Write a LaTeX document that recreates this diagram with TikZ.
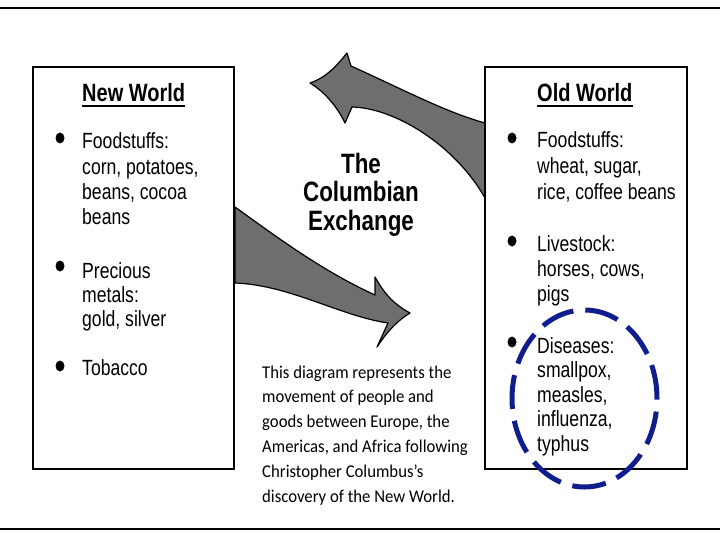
\documentclass[tikz,border=0pt]{standalone}
\usepackage{fontspec}
\setmainfont{Liberation Sans}
\newfontfamily\narrowsans[FakeStretch=0.8]{Liberation Sans}
\newfontfamily\captionsans[FakeStretch=0.93]{Carlito}
\usetikzlibrary{positioning,shapes.geometric}
\definecolor{arrowgrey}{HTML}{6E6E6E}
\definecolor{ringblue}{HTML}{0F1E8C}
\tikzset{
  world/.style   ={rectangle, draw=black, line width=1.6pt, inner sep=0pt},
  head/.style    ={font=\narrowsans\fontsize{25}{28}\selectfont\bfseries,
                   inner sep=0pt, anchor=base west},
  item/.style    ={font=\narrowsans\fontsize{22}{25.5}\selectfont, align=left,
                   inner sep=0pt, anchor=base west},
  dot/.style     ={ellipse, fill=black, minimum width=9pt, minimum height=11pt, inner sep=0pt},
  ttl/.style     ={font=\narrowsans\fontsize{28}{28.5}\selectfont\bfseries, align=center,
                   inner sep=0pt, anchor=base},
  captext/.style ={font=\captionsans\fontsize{18}{24.8}\selectfont, align=left,
                   inner sep=0pt, anchor=base west},
  bigarrow/.style={fill=arrowgrey, draw=black, line width=1.2pt, line join=round},
  ring/.style    ={draw=ringblue, line width=5pt, dash pattern=on 34pt off 12pt},
  rule/.style    ={line width=2.5pt}
}

\begin{document}
\begin{tikzpicture}[x=1pt, y=-1pt]
  \useasboundingbox (0,0) rectangle (720,540);
  \coordinate (tl) at (0,8);   \coordinate (tr) at (720,8);
  \coordinate (bl) at (0,529); \coordinate (br) at (720,529);
  \draw[rule] (tl) -- (tr);
  \draw[rule] (bl) -- (br);

  % the two exchange arrows
  \draw[bigarrow] (485,123) .. controls (445,112) and (400,88) .. (351,66)
    -- (347,53) .. controls (335,68) and (325,78) .. (310,83)
    .. controls (325,92) and (338,108) .. (345,123)
    -- (352,107) .. controls (395,108) and (455,145) .. (485,198) -- cycle;
  \draw[bigarrow] (235,207) .. controls (270,232) and (320,270) .. (375,295)
    -- (375,277) .. controls (385,295) and (395,305) .. (410,313)
    .. controls (395,322) and (385,335) .. (377,347)
    -- (388,323) .. controls (340,316) and (290,285) .. (235,283) -- cycle;

  \node[world, minimum width=201pt, minimum height=402pt] (newworld) at (133.5,268) {};
  \node[world, minimum width=202pt, minimum height=402pt] (oldworld) at (586,268) {};

  % New World (multi-line nodes sit on their last baseline)
  \node[head] (nwhead) at (82,102) {New World};
  \draw[line width=2pt] ([yshift=-4pt]nwhead.south west) -- ([yshift=-4pt]nwhead.south east);
  \node[dot] (nwd1) at (60,138) {};
  \node[item] (nwfood) at (82,225) {Foodstuffs:\\corn, potatoes,\\beans, cocoa\\beans};
  \node[dot] (nwd2) at (60,266) {};
  \node[item, font=\narrowsans\fontsize{22}{24}\selectfont] (nwmetal) at (82,326) {Precious\\metals:\\gold, silver};
  \node[dot] (nwd3) at (60,366) {};
  \node[item] (nwtobacco) at (82,375) {Tobacco};

  % Old World
  \node[head] (owhead) at (537,102) {Old World};
  \draw[line width=2pt] ([yshift=-4pt]owhead.south west) -- ([yshift=-4pt]owhead.south east);
  \node[dot] (owd1) at (512,138) {};
  \node[item, font=\narrowsans\fontsize{22}{26}\selectfont] (owfood) at (537,200) {Foodstuffs:\\wheat, sugar,\\rice, coffee beans};
  \node[dot] (owd2) at (512,241) {};
  \node[item, font=\narrowsans\fontsize{22}{25}\selectfont] (owlive) at (537,301) {Livestock:\\horses, cows,\\pigs};
  \node[dot] (owd3) at (512,342) {};
  \node[item, font=\narrowsans\fontsize{22}{24.5}\selectfont] (owdis) at (537,451) {Diseases:\\smallpox,\\measles,\\influenza,\\typhus};
  \draw[ring] (584.5,398.5) ellipse [x radius=72.5pt, y radius=88.5pt];

  % middle
  \node[ttl] (title) at (361,230) {The\\Columbian\\Exchange};
  \node[captext] (caption) at (262,502) {This diagram represents the\\movement of people and\\goods between Europe, the\\Americas, and Africa following\\Christopher Columbus’s\\discovery of the New World.};
\end{tikzpicture}
\end{document}
